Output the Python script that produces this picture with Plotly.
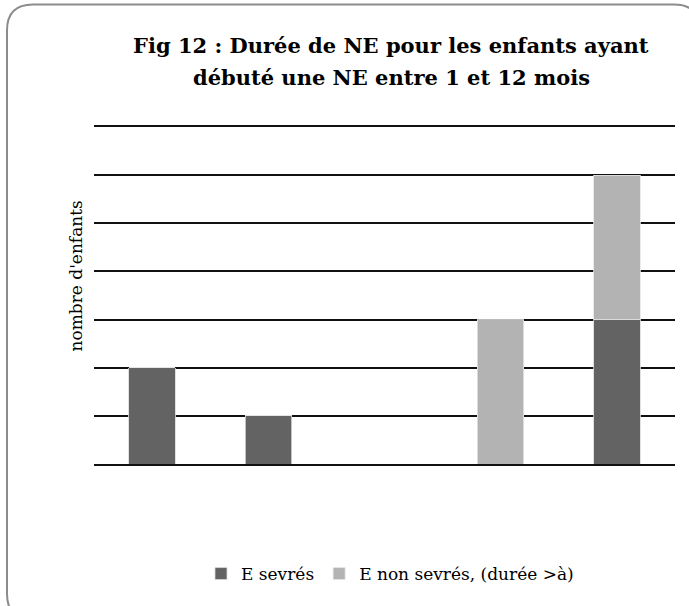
import plotly.graph_objects as go

categories = ["A", "B", "C", "D", "E"]
sevres = [2, 1, 0, 0, 3]
non_sevres = [0, 0, 0, 3, 3]
series_names = ["E sevrés", "E non sevrés, (durée >à)"]
title_lines = ["Fig 12 : Durée de NE pour les enfants ayant", "débuté une NE entre 1 et 12 mois"]
y_title = "nombre d'enfants"

W, H = 689, 606
L, R, T, B = 94, 675, 127, 464

def px(x):
    return (x - L) / (R - L)

def py(y):
    return (B - y) / (B - T)

fig = go.Figure()
fig.add_trace(go.Bar(x=categories, y=sevres, name=series_names[0],
                     marker=dict(color="#636363", line=dict(color="#d9d9d9", width=0.8))))
fig.add_trace(go.Bar(x=categories, y=non_sevres, name=series_names[1],
                     marker=dict(color="#b3b3b3", line=dict(color="#e6e6e6", width=0.8))))

# rounded border of chart area
x0, y0, x1, y1, r = 7, 4.5, 700, 620, 26
path = (f"M {px(x0)},{py(y0 + r)} "
        f"L {px(x0)},{py(y1 - r)} "
        f"Q {px(x0)},{py(y1)} {px(x0 + r)},{py(y1)} "
        f"L {px(x1 - r)},{py(y1)} "
        f"Q {px(x1)},{py(y1)} {px(x1)},{py(y1 - r)} "
        f"L {px(x1)},{py(y0 + r)} "
        f"Q {px(x1)},{py(y0)} {px(x1 - r)},{py(y0)} "
        f"L {px(x0 + r)},{py(y0)} "
        f"Q {px(x0)},{py(y0)} {px(x0)},{py(y0 + r)} Z")

FONT = "DejaVu Serif"
title_annots = [
    dict(text="<b>" + line + "</b>", xref="paper", yref="paper",
         x=px(391), y=py(yy), xanchor="center", yanchor="middle", showarrow=False,
         font=dict(size=21, family=FONT))
    for line, yy in zip(title_lines, [45, 77])
]
fig.update_layout(
    width=W, height=H,
    margin=dict(l=L, r=W - R, t=T, b=H - B, pad=0),
    barmode="stack",
    bargap=0.6,
    plot_bgcolor="white",
    paper_bgcolor="white",
    font=dict(family=FONT, color="#000000", size=17),
    showlegend=True,
    legend=dict(orientation="h", x=px(390), xanchor="center", y=py(574), yanchor="middle",
                font=dict(size=17), itemwidth=30, traceorder="normal"),
    shapes=[dict(type="path", path=path, xref="paper", yref="paper",
                 line=dict(color="#8c8c8c", width=2), layer="below")],
    annotations=title_annots + [
        dict(text=y_title, xref="paper", yref="paper", x=px(75), y=py(276.5),
             xanchor="center", yanchor="middle", showarrow=False, textangle=-90,
             font=dict(size=17, family=FONT)),
    ],
)
fig.update_xaxes(showticklabels=False, showgrid=False, zeroline=False,
                 showline=True, mirror=True, linecolor="#111111", linewidth=2,
                 ticks="")
fig.update_yaxes(range=[0, 7], dtick=1, showticklabels=False, showgrid=True,
                 gridcolor="#111111", gridwidth=2, zeroline=False, showline=False, ticks="")

fig.write_html("out.html", config={"displayModeBar": False},
               post_script="document.body.style.margin='0';")
